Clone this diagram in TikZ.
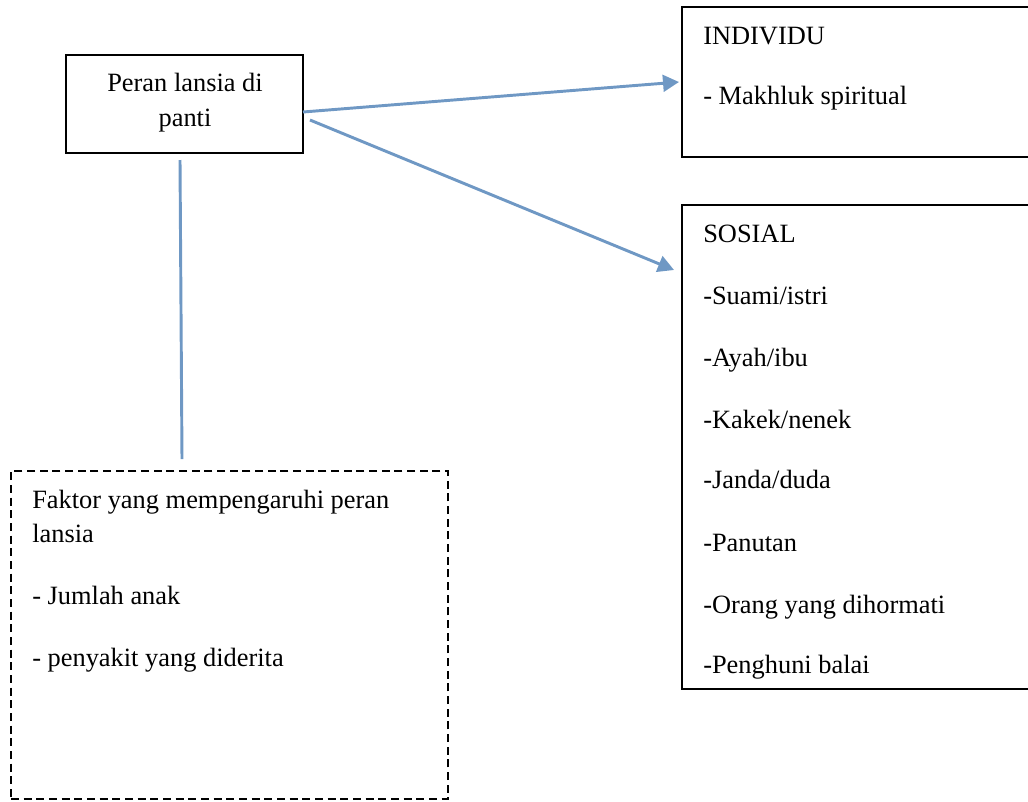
\documentclass[tikz,border=0pt]{standalone}
\usepackage{fontspec}
\setmainfont{Liberation Serif}
\usetikzlibrary{arrows.meta,fit}
\definecolor{connblue}{RGB}{111,152,196}
\tikzset{
  box/.style={draw=black, line width=1.3pt, inner sep=0pt},
  dbox/.style={draw=black, line width=1.2pt, dash pattern=on 6pt off 3.5pt, inner sep=0pt},
  txt/.style={anchor=base west, inner sep=0pt, font=\fontsize{19.8}{23}\selectfont},
  ctxt/.style={anchor=base, inner sep=0pt, font=\fontsize{19.8}{23}\selectfont},
  conn/.style={draw=connblue, line width=2.2pt},
  arr/.style={conn, -{Triangle[length=12pt,width=12.5pt]}}
}
\begin{document}
\begin{tikzpicture}[x=0.75pt,y=-0.75pt]
\useasboundingbox (0,0) rectangle (1028,801);
% boxes
\node[box, fit={(66,55) (303,153)}] (peran) {};
\node[box, fit={(682,7) (1034,157)}] (indiv) {};
\node[box, fit={(682,205) (1034,689)}] (sosial) {};
\node[dbox, fit={(11,471) (448,799)}] (faktor) {};
% texts
\node[ctxt] (p1) at (185,91) {Peran lansia di};
\node[ctxt] (p2) at (185,126) {panti};
\node[txt] (i1) at (703,44) {INDIVIDU};
\node[txt] (i2) at (703,104) {- Makhluk spiritual};
\node[txt] (s1) at (703,242) {SOSIAL};
\node[txt] (s2) at (703,304) {-Suami/istri};
\node[txt] (s3) at (703,366) {-Ayah/ibu};
\node[txt] (s4) at (703,428) {-Kakek/nenek};
\node[txt] (s5) at (703,488) {-Janda/duda};
\node[txt] (s6) at (703,551) {-Panutan};
\node[txt] (s7) at (703,613) {-Orang yang dihormati};
\node[txt] (s8) at (703,673) {-Penghuni balai};
\node[txt] (f1) at (32,508) {Faktor yang mempengaruhi peran};
\node[txt] (f2) at (32,542) {lansia};
\node[txt] (f3) at (32,604) {- Jumlah anak};
\node[txt] (f4) at (32,666) {- penyakit yang diderita};
% connectors
\coordinate (a1s) at (303,112);
\coordinate (a1e) at (679,82);
\coordinate (a2s) at (310,120);
\coordinate (a2e) at (674,270);
\coordinate (ls) at (180,160);
\coordinate (le) at (182,459);
\draw[arr] (a1s) -- (a1e);
\draw[arr] (a2s) -- (a2e);
\draw[conn] (ls) -- (le);
\end{tikzpicture}
\end{document}
